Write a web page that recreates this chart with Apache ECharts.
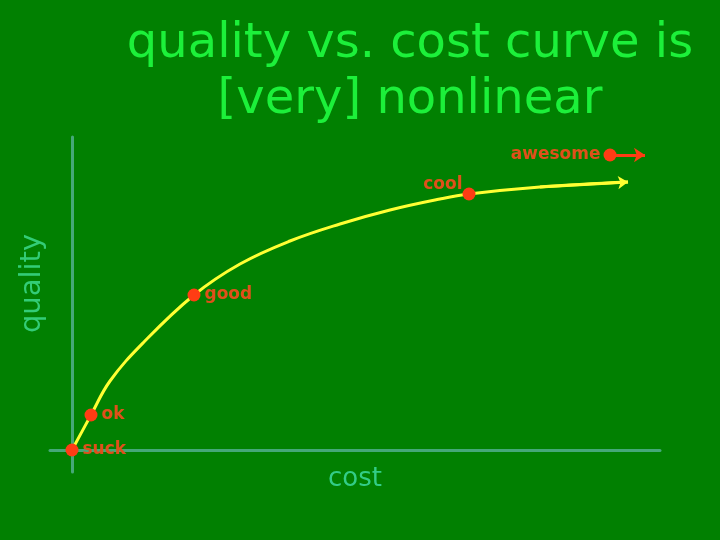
<!DOCTYPE html>
<html>
<head>
<meta charset="utf-8">
<script src="https://cdn.jsdelivr.net/npm/echarts@6/dist/echarts.min.js"></script>
<style>
  html, body { margin: 0; padding: 0; background: #018001; }
  #main { width: 720px; height: 540px; }
</style>
</head>
<body>
<div id="main"></div>
<script>
// curve (cost, quality)
var curveCost = [0, 19, 38, 71, 122, 168, 218, 268, 318, 368, 397, 468, 556];
var curveQuality = [0, 35, 69, 107, 155, 186, 209, 226, 240, 251, 256, 263, 268];

// labelled points
var pointNames = ['suck', 'ok', 'good', 'cool', 'awesome'];
var pointCost = [0, 19, 122, 397, 538];
var pointQuality = [0, 35, 155, 256, 295];
var awesomeArrowEnd = [573, 295];

var myChart = echarts.init(document.getElementById('main'));

var labelFont = { fontFamily: 'DejaVu Sans', fontWeight: 'bold', fontSize: 17, color: '#e0501a' };

var pointData = pointNames.map(function (n, i) {
    var item = { name: n, value: [pointCost[i], pointQuality[i]] };
    if (n === 'cool') {
        item.label = { position: 'left', distance: 0, offset: [0, -9] };
    } else if (n === 'awesome') {
        item.label = { position: 'left', distance: 3 };
    }
    return item;
});

var last = curveCost.length - 1;

var option = {
    backgroundColor: '#018001',
    animation: false,
    title: {
        text: 'quality vs. cost curve is\n[very] nonlinear',
        left: 405,
        textAlign: 'center',
        top: 12,
        textStyle: {
            fontFamily: 'DejaVu Sans',
            fontWeight: 'normal',
            fontSize: 48,
            lineHeight: 56,
            color: '#1cf03a'
        }
    },
    grid: { left: 50, right: 60, top: 137, bottom: 68, containLabel: false, outerBoundsMode: 'none' },
    xAxis: {
        type: 'value',
        min: -22,
        max: 588,
        name: 'cost',
        nameLocation: 'middle',
        nameGap: -6,
        nameTextStyle: { fontFamily: 'DejaVu Sans', fontSize: 26, color: '#33cc88' },
        axisLine: { lineStyle: { color: '#45a878', width: 3 } },
        axisTick: { show: false },
        axisLabel: { show: false },
        splitLine: { show: false }
    },
    yAxis: {
        type: 'value',
        min: -22,
        max: 313,
        name: 'quality',
        nameLocation: 'middle',
        nameGap: 3,
        nameTextStyle: { fontFamily: 'DejaVu Sans', fontSize: 29, color: '#33cc77', padding: [0, 0, 0, 42] },
        axisLine: { lineStyle: { color: '#45a878', width: 3 } },
        axisTick: { show: false },
        axisLabel: { show: false },
        splitLine: { show: false }
    },
    series: [
        {
            name: 'curve',
            type: 'line',
            smooth: 0.4,
            symbol: 'none',
            silent: true,
            lineStyle: { color: '#ffff33', width: 3 },
            data: curveCost.map(function (c, i) { return [c, curveQuality[i]]; }),
            markLine: {
                silent: true,
                symbol: ['none', 'arrow'],
                symbolSize: 10,
                label: { show: false },
                lineStyle: { color: '#ffff33', width: 3, type: 'solid' },
                data: [[
                    { coord: [curveCost[last - 1], curveQuality[last - 1]] },
                    { coord: [curveCost[last], curveQuality[last]] }
                ]]
            }
        },
        {
            name: 'points',
            type: 'scatter',
            symbolSize: 13,
            silent: true,
            z: 5,
            itemStyle: { color: '#ff3c14', opacity: 1 },
            label: Object.assign({ show: true, position: 'right', distance: 4, formatter: '{b}' }, labelFont),
            data: pointData,
            markLine: {
                silent: true,
                symbol: ['none', 'arrow'],
                symbolSize: 11,
                label: { show: false },
                lineStyle: { color: '#ff3c14', width: 3, type: 'solid' },
                data: [[
                    { coord: [pointCost[4], pointQuality[4]] },
                    { coord: awesomeArrowEnd }
                ]]
            }
        }
    ]
};

myChart.setOption(option);
</script>
</body>
</html>
